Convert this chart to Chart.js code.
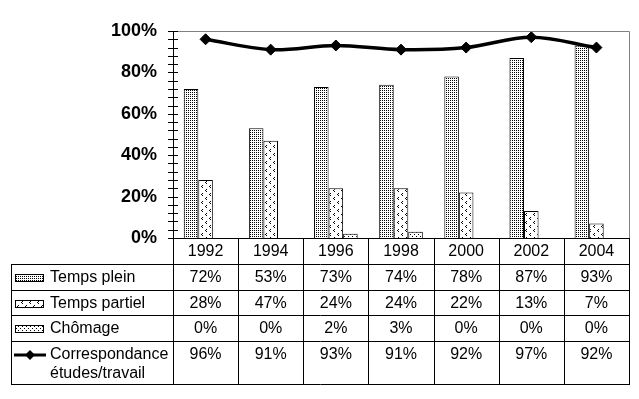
<!DOCTYPE html>
<html>
<head>
<meta charset="utf-8">
<script src="https://cdn.jsdelivr.net/npm/chart.js"></script>
<style>
  html, body { margin: 0; padding: 0; background: #fff; }
</style>
</head>
<body>
<canvas id="chart" width="639" height="399"></canvas>
<script>
// Données
const years = ["1992", "1994", "1996", "1998", "2000", "2002", "2004"];
const tempsPlein = [72, 53, 73, 74, 78, 87, 93];
const tempsPartiel = [28, 47, 24, 24, 22, 13, 7];
const chomage = [0, 0, 2, 3, 0, 0, 0];
const correspondance = [96, 91, 93, 91, 92, 97, 92];
const yTicks = [0, 20, 40, 60, 80, 100];

const canvas = document.getElementById("chart");
const ctx = canvas.getContext("2d");

// petits motifs façon Excel
function makePattern(w, h, pixels) {
    const c = document.createElement("canvas");
    c.width = w; c.height = h;
    const g = c.getContext("2d");
    g.fillStyle = "#fff";
    g.fillRect(0, 0, w, h);
    g.fillStyle = "#000";
    pixels.forEach(([px, py]) => g.fillRect(px, py, 1, 1));
    return ctx.createPattern(c, "repeat");
}
const patPlein = makePattern(2, 2, [[0, 0]]);
const patPartiel = makePattern(8, 8, [[2, 1], [1, 2], [2, 3], [6, 5], [5, 6], [6, 7]]);
const patChomage = makePattern(4, 4, [[0, 0], [2, 2]]);

const FONT = '16px "Liberation Sans", Arial, sans-serif';
const TABLE_LEFT = 11;
const ROW_LINES = [264, 290, 315, 341, 384];

const rows = [
    { label: ["Temps plein"], values: tempsPlein, key: "bar", pattern: patPlein },
    { label: ["Temps partiel"], values: tempsPartiel, key: "bar", pattern: patPartiel },
    { label: ["Chômage"], values: chomage, key: "bar", pattern: patChomage },
    { label: ["Correspondance", "études/travail"], values: correspondance, key: "line" }
];

function crisp(v) { return Math.round(v) + 0.5; }

const tablePlugin = {
    id: "dataTable",
    afterDraw(chart) {
        const c = chart.ctx;
        const a = chart.chartArea;
        const n = years.length;
        const colW = (a.right - a.left) / n;
        c.save();

        // bord gris du haut et de droite
        c.strokeStyle = "#808080";
        c.lineWidth = 1;
        c.beginPath();
        c.moveTo(crisp(a.left), crisp(a.top));
        c.lineTo(crisp(a.right), crisp(a.top));
        c.lineTo(crisp(a.right), crisp(a.bottom));
        c.stroke();

        // axe vertical + graduations
        c.strokeStyle = "#000";
        c.beginPath();
        c.moveTo(crisp(a.left), crisp(a.top));
        c.lineTo(crisp(a.left), crisp(a.bottom));
        const y = chart.scales.y;
        for (let v = 0; v <= 100; v += 4) {
            const py = crisp(y.getPixelForValue(v));
            c.moveTo(a.left - 5, py);
            c.lineTo(a.left + 5, py);
        }
        c.stroke();

        // lignes du tableau
        c.beginPath();
        c.moveTo(a.left, crisp(a.bottom));
        c.lineTo(a.right + 1, crisp(a.bottom));
        ROW_LINES.forEach(ly => {
            c.moveTo(TABLE_LEFT, crisp(ly));
            c.lineTo(a.right + 1, crisp(ly));
        });
        c.moveTo(crisp(TABLE_LEFT), ROW_LINES[0]);
        c.lineTo(crisp(TABLE_LEFT), ROW_LINES[ROW_LINES.length - 1] + 1);
        for (let i = 0; i <= n; i++) {
            const lx = crisp(a.left + i * colW);
            c.moveTo(lx, a.bottom);
            c.lineTo(lx, ROW_LINES[ROW_LINES.length - 1] + 1);
        }
        c.stroke();

        // textes
        c.fillStyle = "#000";
        c.font = FONT;
        c.textAlign = "center";
        c.textBaseline = "middle";
        years.forEach((yr, i) => {
            c.fillText(yr, a.left + (i + 0.5) * colW, (a.bottom + ROW_LINES[0]) / 2 + 1);
        });

        rows.forEach((row, r) => {
            const top = ROW_LINES[r];
            const mid = row.label.length > 1 ? top + 14 : (top + ROW_LINES[r + 1]) / 2 + 1;
            c.textAlign = "center";
            row.values.forEach((v, i) => {
                c.fillText(v + "%", a.left + (i + 0.5) * colW, mid);
            });
            c.textAlign = "left";
            row.label.forEach((t, k) => c.fillText(t, 50, mid + k * 19));

            // clés de légende
            if (row.key === "bar") {
                c.fillStyle = row.pattern;
                c.fillRect(15, Math.round(mid) - 4, 29, 8);
                c.fillStyle = "#000";
                c.strokeRect(15.5, Math.round(mid) - 3.5, 28, 7);
            } else {
                const ky = Math.round(mid);
                c.lineWidth = 3;
                c.beginPath();
                c.moveTo(14, ky);
                c.lineTo(46, ky);
                c.stroke();
                c.beginPath();
                c.moveTo(25, ky);
                c.lineTo(30, ky - 5);
                c.lineTo(35, ky);
                c.lineTo(30, ky + 5);
                c.closePath();
                c.fill();
                c.lineWidth = 1;
            }
        });
        c.restore();
    }
};

new Chart(ctx, {
    data: {
        labels: years,
        datasets: [
            {
                type: "line",
                label: "Correspondance études/travail",
                data: correspondance,
                order: 0,
                borderColor: "#000",
                borderWidth: 3.5,
                tension: 0.35,
                pointStyle: "rectRot",
                pointRadius: 5.5,
                pointBackgroundColor: "#000",
                pointBorderColor: "#000",
                pointBorderWidth: 1
            },
            {
                type: "bar",
                label: "Temps plein",
                data: tempsPlein,
                order: 1,
                backgroundColor: patPlein,
                borderColor: "#000",
                borderWidth: 1
            },
            {
                type: "bar",
                label: "Temps partiel",
                data: tempsPartiel,
                order: 1,
                backgroundColor: patPartiel,
                borderColor: "#000",
                borderWidth: 1
            },
            {
                type: "bar",
                label: "Chômage",
                data: chomage,
                order: 1,
                backgroundColor: patChomage,
                borderColor: "#000",
                borderWidth: 1
            }
        ]
    },
    options: {
        responsive: false,
        animation: false,
        events: [],
        layout: { padding: { top: 31, right: 10, bottom: 161, left: 0 } },
        datasets: {
            bar: { categoryPercentage: 0.67, barPercentage: 1 }
        },
        plugins: {
            legend: { display: false },
            tooltip: { enabled: false }
        },
        scales: {
            x: { display: false },
            y: {
                min: 0,
                max: 100,
                afterFit(scale) { scale.width = 173; },
                afterBuildTicks(scale) { scale.ticks = yTicks.map(v => ({ value: v })); },
                grid: { display: false, drawTicks: false },
                border: { display: false },
                ticks: {
                    padding: 16,
                    color: "#000",
                    font: { family: '"Liberation Sans", Arial, sans-serif', size: 18, weight: "bold" },
                    callback: v => v + "%"
                }
            }
        }
    },
    plugins: [tablePlugin]
});
</script>
</body>
</html>
